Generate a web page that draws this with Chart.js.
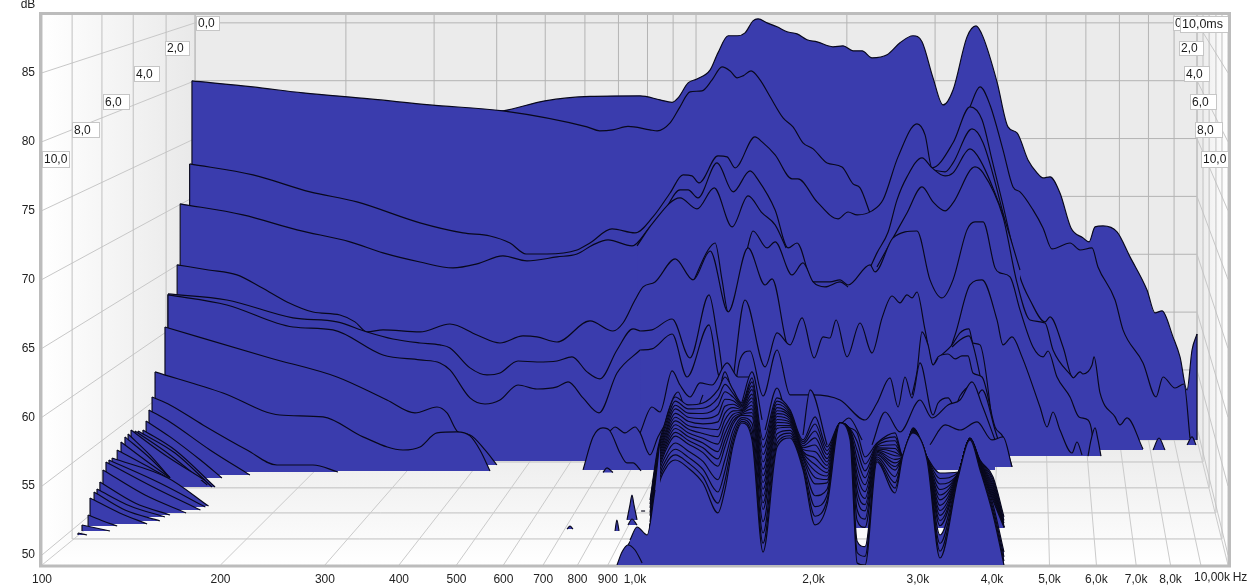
<!DOCTYPE html>
<html>
<head>
<meta charset="utf-8">
<title>Waterfall</title>
<script src="https://cdn.jsdelivr.net/npm/chart.js@4"></script>
<style>
html,body{margin:0;padding:0;background:#fff;overflow:hidden}
canvas{display:block}
</style>
</head>
<body>
<canvas id="chart" width="1248" height="586"></canvas>
<script>
/******************** AXES ********************/
const xTickHz = [100,200,300,400,500,600,700,800,900,1000,2000,3000,4000,5000,6000,7000,8000];
const xTickText = ['100','200','300','400','500','600','700','800','900','1,0k','2,0k','3,0k','4,0k','5,0k','6,0k','7,0k','8,0k'];
const gridHz = [200,300,400,500,600,700,800,900,1000,2000,3000,4000,5000,6000,7000,8000,9000];
const yTickDb = [50,55,60,65,70,75,80,85];
const timeText = ['0,0','2,0','4,0','6,0','8,0','10,0'];

// where the walls and floor sit, read on the front Hz/dB scales
const floorDb = [58.35,56.75,54.87,53.05,51.16,49.27];
const floorLeftHz = [181.2,161.9,142.5,126.2,112.4,100];
const floorRightHz = [8866,9075,9293,9542,9769,10000];

/******************** SLICES, back to front ********************/
const c0Hz = [570,599,705,840,1020,1102,1155,1182,1229,1272,1339,1380,1436,1487,1533,1581,1613,1670,1736,1805,1876,1950,2028,2157,2243,2332,2415,2510,2661,2798,2943,3048,3181,3307,3438,3630,3759,3863,4078,4256,4408,4600,4764,4876,5010,5208,5436,5695,5830,5967,6155,6499,6836,7302,7532,7740,8077,8300,8529,8696,8866];
const c0Db = [82.17,82.24,82.97,83.29,83.33,83.04,82.86,83.18,84.27,84.56,85.22,86.45,87.69,87.69,87.90,88.77,88.92,88.63,88.34,87.98,87.83,87.40,87.25,86.89,86.96,86.60,86.60,86.09,86.31,87.18,87.69,87.25,84.64,82.67,83.76,87.61,88.41,87.61,84.35,81.08,80.64,78.68,77.74,77.37,77.45,76.28,73.74,73.02,72.73,73.82,73.89,73.45,71.64,69.24,67.57,67.72,65.83,64.38,61.98,64.88,66.04];

const c1Hz = [179,226.9,275.5,357,451,599,830,872,918,973,1060,1090,1146,1191,1238,1297,1349,1402,1447,1487,1521,1569,1625,1690,1777,1847,1920,1997,2108,2234,2332,2396,2520,2672,2910,3333,3672,3818,3969,4174,4340,4459,4690,4876,5049,5415,5629,5898,6036,6450,6652,7190,7562,7770,8140,8430,8628];
const c1Db = [84.42,83.98,83.55,83.11,82.67,82.24,81.08,80.79,80.86,81.11,80.86,80.79,81.37,82.53,83.62,83.69,84.49,85.43,85.14,84.64,84.78,85.14,84.49,83.26,81.73,81.08,79.92,79.48,78.46,78.17,76.94,76.65,74.32,73.45,72.14,77.95,82.53,83.98,82.67,79.41,76.72,76.36,75.05,73.74,72.22,72.65,72.14,72.29,70.91,68.51,66.34,63.94,61.47,62.92,62.12,62.41,58.49];

const aHz = [177.4,226.9,283.1,339.7,433.9,512.8,569.5,615.4,654.9,710.5,798.4,839.6,914.6,1000,1072,1146,1205,1248,1282,1380,1430,1475,1593,1638,1723,1840,1883,2028,2200,2287,2369,2510,2620,2777,2989,3084,3169,3438,3672,3848,4000,4174,4240,4459,4636,4914,5010,5270,5478,5629,5695,5898,5944,6084,6449,6575,6756,7190];
const aDb = [78.39,77.59,76.36,75.63,74.11,73.38,73.16,72.65,71.85,71.85,72.14,72.65,73.67,73.38,74.54,76.28,77.59,77.52,77.01,78.97,78.9,78.1,80.35,79.99,79.04,77.3,77.3,75.63,74.4,74.9,74.69,74.98,75.78,78.9,81.3,80.5,78.1,79.92,82.53,81.59,78.68,75.41,74.11,70.18,68.51,66.92,67.28,65.1,62.85,63.29,63.14,63.79,64.38,61.76,60.02,59.44,59.95,57.69];

const t2Hz = [3181,3333,3438,3701,3863,4174,4323];
const t2Db = [77.95,77.81,78.46,80.93,79.92,74.83,72.14];
const tcHz = [2491,2559,2672,2766,2875,3048,3169,3333,3438,3672,3818,4174,4459];
const tcDb = [70.84,71.93,73.45,75.78,77.45,78.83,78.1,77.52,77.74,79.48,78.68,74.69,70.69];
const t5Hz = [2559,2724,2875,3048,3181,3333,3438,3744,3863,4174,4408,4636,4914,5069,5478];
const t5Db = [70.91,73.02,74.83,76.72,75.63,74.98,75.56,78.17,77.74,74.54,69.75,67.06,66.84,64.88,62.85];

const bHz = [171,218.2,269.2,330.6,375.9,433.9,493.2,541.4,598.9,657.4,738.7,798.4,849.5,900.5,988.4,1060,1115,1191,1229,1277,1375,1464,1563,1613,1723,1812,1876,1997,2132,2217,2287,2491,2539,2724,2989,3144,3294,3438,3630,3744,3863,4047,4126,4290,4459,4690,4876,4972,5148,5415,5607,5807,5898,5944];
const bDb = [75.49,74.69,73.6,72.73,71.93,71.27,70.84,71.13,71.71,71.35,71.64,71.85,72.51,72.87,72.44,73.82,74.83,76.5,76.5,75.92,78.46,76.36,77.88,77.23,75.05,72.29,72.65,69.82,69.82,69.97,69.6,71.06,70.55,73.02,73.52,69.97,68.66,69.97,73.6,74.18,74.18,70.84,70.48,70.18,67.79,65.1,64.38,64.81,62.92,61.47,60.02,59.8,58.86,57.26];
const cHz = [1008,1072,1191,1272,1360,1458,1551,1638,1723,1798];
const cDb = [72.44,74.11,75.92,75.12,76.65,73.82,76.07,74.83,73.96,72.29];
const eHz = [1253,1328,1365,1402,1436,1503,1545,1581,1670,1723,1840,1920,1997,2091,2217,2287];
const eDb = [69.82,72.14,72.65,69.97,67.64,69.97,72.14,73.52,72.29,72.73,70.33,71.2,69.82,69.46,69.82,69.46];

const dHz = [169,190.9,213.2,234.9,258.9,286.4,318,337.1,353.2,375.9,433.9,487.5,541.4,592,647.3,683.4,738.7,839.6,918,954.5,1000,1032,1081,1169,1253,1339,1436,1551,1657,1703,1805,1898,2305,2798,3268,3465,3672,3848,4078,4174,4323,4494,4819,4952,5069,5208,5457,5564,5673];
const dDb = [71.06,70.69,70.33,69.39,68.37,67.64,67.42,66.92,66.19,66.34,66.19,66.77,65.97,65.39,65.9,65.83,65.46,66.99,66.26,66.84,68.51,69.46,69.82,71.49,69.97,72.07,67.64,72.29,69.6,70.04,65.25,64.16,63.79,64.16,63.43,65.97,69.6,69.97,67.06,65.25,65.83,64.38,60.74,59.29,60.38,59.07,57.4,58.2,57.26];

const h2Hz = [3244,3425,3532,3658,3715,3818,4016];
const h2Db = [64.3,65.25,66.12,66.41,65.39,65.25,59.29];
const h3Hz = [3425,3532,3658,3715,3893];
const h3Db = [65.1,65.61,65.9,65.25,61.25];

const l4aHz = [163.1,205,265,314.4,353.2,390.7,433.9,468.9,487.5,526.9,562.8,592,634.9,683.4,738.7,783,830,872.9,932.5,992.3,1020];
const l4aDb = [68.95,68.51,67.21,66.92,66.19,65.68,65.39,65.25,65.03,63.58,63.07,63.21,64.08,64.01,64.08,64.38,63.29,62.78,64.88,66.41,66.26];
const l4bHz = [1020,1068,1155,1238,1333,1380,1436,1533,1657,1736,1826,1913,2005,2075,2132,2183,2278,2396,2510,2610,2713,2798,2875,2932,2989,3084,3181,3244,3372,3465,3560,3644,3715,3848,4047,4174,4323];
const l4bDb = [66.26,66.34,67.13,64.3,68.88,65.61,61.25,68.51,63.65,66.12,65.25,67.21,64.3,65.83,65.75,67.06,64.38,66.84,64.66,67.21,68.8,68.3,68.88,68.66,69.09,66.34,63.79,64.38,64.59,64.23,64.45,64.45,63.21,62.92,59.29,58.57,56.39];
const h1Hz = [2932,2989,3048,3120,3181,3244];
const h1Db = [61.62,63.29,66.19,65.25,63.79,64.3];

const l5aHz = [163.1,205,265,309.5,375.9,433.9,468.9,487.5,526.9,558.5,592,634.9,683.4,738.7,771,817.2,869.5,932.5,1020];
const l5aDb = [68.88,68.15,66.55,66.34,64.52,64.16,63.94,63.43,61.4,60.96,61.25,62.34,62.05,62.2,62.56,61.4,60.31,63.21,64.88];
const l5bHz = [1020,1068,1155,1224,1333,1380,1447,1503,1563,1644,1736,1826,1989,2217,2443,2559,2692,2777,2853,2932,3024,3181,3244,3372,3465,3532,3672,3715,3848,4047,4207];
const l5bDb = [64.88,64.96,66.04,62.92,66.7,63.21,60.53,64.16,64.81,61.54,64.88,61.62,61.62,61.25,59.8,61.03,62.85,60.74,62.92,61.4,63.94,60.16,61.03,61.4,60.74,61.54,62.2,61.03,61.98,59.07,56.75];

const l6Hz = [161.2,242.3,314.4,381.7,425.5,463.5,481.9,502.9,526.9,558.5,585];
const l6Db = [66.55,64.3,62.92,61.25,60.31,60.74,60.31,58.93,58.71,57.62,56.53];
const l7Hz = [155.1,201.9,251.9,297.8,347.8,406.2,433.9,463.5,500.9,526.9,547.7,569.5];
const l7Db = [63.29,61.76,60.16,60.02,58.57,57.62,57.84,58.86,58.93,58.64,57.62,56.1];
const l8Hz = [153.3,164.4,186.8,221.7,249,286.4,315.6];
const l8Db = [61.47,60.89,59.44,57.62,56.53,56.53,56.02];

// the small wedges at the low end, each ends on its own floor level
const wedgeHz = [
  [151.5,164.4,192,224.2],[149.8,164.4,185,201.1],[148,167.6,195.8],[145.2,167.6,193.5],
  [143.5,164.4,190],[141.3,161.2,187.9],[139.7,152,164.4],[138,152,164.4],[135.9,149.2,164.4],
  [133.9,149.2,163.1],[131.3,163.1,190.9],[129.7,158,188.6],[128.2,155.1,185],[126.7,149.2,175],
  [125.2,143.5,164.4],[123.8,140.8,161.2],[122.4,138,158],[120.5,135.2,150.4],[119.6,126.7,133.9],
  [116.8,123.3,130.2],[115,119.1]
];
const wedgeDb = [
  [60.53,59.65,57.62,55.8],[59.73,58.57,56.89,55.59],[59.07,57.62,54.93],[59,57.4,54.93],
  [59,57.26,55.08],[59.07,57.26,55.44],[58.78,57.26,55.59],[58.57,57.04,55.59],[58.2,56.89,55.59],
  [57.62,56.53,55.59],[57.04,55.59,53.55],[56.89,55.22,53.48],[56.75,54.86,53.26],[56.17,54.35,53.05],
  [55.3,53.77,52.9],[54.79,53.55,52.76],[54.57,53.26,52.47],[54.14,53.05,52.25],[52.9,52.47,52.1],
  [52.17,51.96,51.74],[51.59,51.45]
];

// mid level ripples behind the dense group
const g2Hz = [1020,1068,1102,1155,1191,1238,1287,1349,1430,1492,1575,1613];
const g2Db = [58.86,60.74,60.38,63.36,62.34,61.47,62.49,62.34,63.94,62.92,62.92,60.53];
const g3Hz = [1102,1137,1182,1238,1302];
const g3Db = [58,60.38,61.83,59.44,61.62];
const g4Hz = [1365,1418,1492,1575,1638];
const g4Db = [59.8,63.29,60.53,63.29,59.8];
const m5Hz = [1657,1736,1826];
const m5Db = [59.07,62.12,58.35];
const m6Hz = [1920,1974,2108];
const m6Db = [58.71,61.98,57.99];
const m7Hz = [2217,2295,2415];
const m7Db = [59.44,59.94,58.35];
const m2Hz = [2510,2641,2798,3024,3169,3372,3532,3701,3848,4047];
const m2Db = [57.99,60.38,58.93,61.25,59.94,60.89,61.25,62.56,60.89,58.35];
const m3Hz = [3144,3333,3532,3774,4000,4174,4323];
const m3Db = [58,59.44,59.07,59.66,58.35,58.57,56.39];
const g1bHz = [907.5,925.3,962,1000,1020,1060,1093,1137];
const g1bDb = [59,59.29,58.86,59.29,58.86,57.26,58.57,59.8];
const g1aHz = [817.2,849.5,883,907.5,943.4,969.4,992.3,1024];
const g1aDb = [56.17,58.57,59.22,59,57.4,56.68,56.68,56.1];

// dense group in front, rows run from the back one to the front one
const denseHz = [1060,1093,1128,1169,1229,1302,1380,1418,1464,1515,1575,1644,1736,1826,1920,2012,2108,2217,2305,2369,2443,2559,2745,2831,2943,3108,3268,3506,3672,3818,4016,4190];
const denseFloor = [52,52,52,52,52,52,52,52,52,52,52,50,49.27,49.27,49.27];
const denseDb = [
  [53.99,57.77,59.80,61.47,60.89,61.03,61.98,62.92,61.98,61.03,62.85,58.35,61.40,60.53,58.35,60.02,57.84,59.58,59.22,58.86,57.11,58.13,58.86,57.11,59.22,57.11,55.95,56.02,58.49,56.89,55.66,52.76],
  [53.7,57.57,59.57,61.17,60.6,60.65,61.4,62.38,61.72,60.93,62.56,57.82,61.17,60.4,58.21,59.51,57.56,59.58,59.16,58.23,56.6,58.04,58.57,57.12,59.2,57.1,55.55,55.99,58.48,56.85,55.48,52.5],
  [53.42,57.37,59.35,60.87,60.3,60.27,60.82,61.85,61.46,60.84,62.27,57.29,60.94,60.26,58.07,59.0,57.29,59.58,59.11,57.6,56.1,57.95,58.29,57.13,59.17,57.08,55.15,55.96,58.47,56.8,55.3,52.3],
  [53.1,57.2,59.1,60.6,60,59.9,60.2,61.3,61.2,60.75,62,56.75,60.7,60.13,57.92,58.5,57,59.58,59.05,57,55.6,57.86,58,57.14,59.15,57.06,54.75,55.93,58.46,56.75,55.1,52.1],
  [52.86,56.98,58.9,60.28,59.7,59.52,59.66,60.79,60.94,60.65,61.68,56.23,60.47,60.0,57.78,57.98,56.75,59.58,58.99,56.4,55.1,57.77,57.73,57.15,59.13,57.05,54.35,55.91,58.45,56.7,54.94,52],
  [52.4,56.8,58.7,60,59.4,59.2,59.1,60.3,60.7,60.56,61.4,55.75,60.26,59.87,57.65,57.5,56.5,59.58,58.94,55.85,54.6,57.69,57.46,57.16,59.1,57.04,54,55.88,58.45,56.66,54.78,52],
  [52,56.61,58.48,59.73,59.15,58.82,58.59,59.8,60.46,60.48,61.14,55.26,60.05,59.75,57.52,57.04,56.24,59.58,58.89,55.3,54.1,57.61,57.2,57.17,59.08,57.03,53.6,55.86,58.44,56.62,54.61,52],
  [52,56.43,58.27,59.45,58.87,58.47,58.05,59.3,60.22,60.39,60.87,54.77,59.83,59.63,57.39,56.57,55.98,59.58,58.83,54.7,53.65,57.52,56.94,57.17,59.06,57.01,53.23,55.83,58.43,56.57,54.44,52],
  [52,56.25,58.06,59.18,58.6,58.13,57.5,58.82,59.98,60.3,60.6,54.28,59.62,59.51,57.26,56.1,55.73,59.58,58.78,54.1,53.2,57.44,56.68,57.18,59.04,57.0,52.87,55.8,58.42,56.53,54.28,52],
  [52,56.06,57.85,58.9,58.33,57.78,56.97,58.33,59.74,60.21,60.33,53.79,59.4,59.39,57.13,55.63,55.48,59.58,58.73,53.3,52.6,57.35,56.42,57.19,59.02,56.98,52.5,55.78,58.41,56.48,54.11,52],
  [52,55.88,57.64,58.63,58.06,57.43,56.44,57.84,59.50,60.13,60.06,53.30,59.19,59.27,57.0,55.16,55.23,59.58,58.68,52.5,52,57.27,56.16,57.2,59.0,56.97,52.12,55.75,58.40,56.44,53.95,52],
  [50.81,55.54,57.26,58.13,57.55,56.79,55.46,56.93,59.06,59.97,59.57,52.41,58.80,59.04,56.76,54.30,54.77,59.58,58.58,50,50,57.12,55.68,57.22,58.96,56.95,51.45,55.71,58.39,56.36,53.65,50.21],
  [50.37,55.24,56.91,57.67,57.10,56.21,54.57,56.11,58.66,59.83,59.12,51.59,58.45,58.84,56.54,53.51,54.35,59.58,58.50,51.0,50.6,56.98,55.24,57.23,58.92,56.93,50.83,55.66,58.37,56.29,53.37,49.86],
  [49.98,54.96,56.60,57.26,56.69,55.68,53.76,55.38,58.30,59.70,58.71,50.86,58.12,58.65,56.34,52.81,53.97,59.58,58.42,50.18,49.9,56.86,54.85,57.25,58.89,56.91,50.27,55.62,58.36,56.23,53.12,49.55],
  [49.63,54.72,56.32,56.89,56.32,55.22,53.05,54.72,57.98,59.58,58.35,50.21,57.84,58.49,56.17,52.18,53.63,59.58,58.35,49.42,49.27,56.75,54.50,57.26,58.86,56.89,49.78,55.59,58.35,56.17,52.90,49.27]
];

// low humps left of the dense group
const lf2Hz = [973,1008,1048,1072,1102];
const lf2Db = [50.72,51.67,51.08,53.77,58.35];
const lf3Hz = [980.7,1008,1048,1081];
const lf3Db = [51.08,52.03,51.45,54.72];
const lf1Hz = [932.5,950.8,973,1000,1028];
const lf1Db = [49.27,50.21,50.72,50.36,49.42];

// isolated bumps on the floor
const bumpHz = [[883,897,918],[768,777,786],[925.3,932,940],[969.4,980.7,988.4,996,1008],[973,988.4,1008],[1024,1040],[7474,7650,7830],[8529,8696,8832],[5807,5875,5967,6036,6107]];
const bumpDb = [[55.99,56.32,55.99],[51.88,52.1,51.88],[51.74,52.54,51.74],[52.54,53.63,54.35,53.63,52.54],[52.17,52.61,52.17],[53.19,53.19],[57.62,58.49,57.62],[57.99,58.57,57.99],[57.18,58.35,59.22,58.35,57.18]];

/******************** BUILD DATASETS ********************/
const BLUE = '#3a3cad';
const LINE = '#08081c';
const LINE_W = 1.15;
const layers = [];

function addEdge(hz, top, base) {
  layers.push({
    data: [{x: hz, y: base}, {x: hz, y: top}],
    fill: false, borderColor: LINE, borderWidth: LINE_W, pointRadius: 0, tension: 0
  });
}

function addSlice(hz, db, base, leftEdge, rightEdge) {
  layers.push({
    data: hz.map((f, i) => ({x: f, y: db[i]})),
    fill: {value: base},
    backgroundColor: BLUE,
    borderColor: LINE,
    borderWidth: LINE_W,
    pointRadius: 0,
    cubicInterpolationMode: 'monotone'
  });
  if (leftEdge) addEdge(hz[0], db[0], base);
  if (rightEdge) addEdge(hz[hz.length - 1], db[db.length - 1], base);
}

addSlice(c0Hz, c0Db, 58.35, false, true);
addSlice(c1Hz, c1Db, 58.49, true, false);
addSlice(aHz, aDb, 57.62, true, false);
addSlice(t2Hz, t2Db, 58.5);
addSlice(tcHz, tcDb, 58.5);
addSlice(t5Hz, t5Db, 58.5);
addSlice(bHz, bDb, 57.18, true, false);
addSlice(cHz, cDb, 58.5);
addSlice(eHz, eDb, 58.5);
addSlice(dHz, dDb, 57.18, true, false);
addSlice(h2Hz, h2Db, 58.5);
addSlice(h3Hz, h3Db, 58.5);
addSlice(l4aHz, l4aDb, 56.82, true, false);
addSlice(l4bHz, l4bDb, 56.39);
addSlice(h1Hz, h1Db, 58.5);
addSlice(l5aHz, l5aDb, 56.82, true, false);
addSlice(l5bHz, l5bDb, 56.39);
addSlice(l6Hz, l6Db, 56.53, true, false);
addSlice(l7Hz, l7Db, 56.1, true, false);
addSlice(l8Hz, l8Db, 56.02, true, false);
wedgeHz.forEach((hz, i) => {
  const db = wedgeDb[i];
  addSlice(hz, db, db[db.length - 1], true, false);
});
[[g2Hz, g2Db], [g3Hz, g3Db], [g4Hz, g4Db], [m5Hz, m5Db], [m6Hz, m6Db], [m7Hz, m7Db], [m2Hz, m2Db]].forEach(p => addSlice(p[0], p[1], 56.17));
addSlice(m3Hz, m3Db, 56.39);
addSlice(g1bHz, g1bDb, 56.17);
addSlice(g1aHz, g1aDb, 56.17);
denseDb.forEach((db, i) => addSlice(denseHz, db, denseFloor[i]));
addSlice(lf2Hz, lf2Db, 49.27);
addSlice(lf3Hz, lf3Db, 49.27);
addSlice(lf1Hz, lf1Db, 49.27);
bumpHz.forEach((hz, i) => {
  const db = bumpDb[i];
  addSlice(hz, db, db[0]);
});

/******************** ROOM: walls, floor, grid, labels ********************/
function drawLine(ctx, x1, y1, x2, y2) {
  ctx.beginPath();
  ctx.moveTo(x1, y1);
  ctx.lineTo(x2, y2);
  ctx.stroke();
}

function drawBox(ctx, x, y, w, h, text, size) {
  ctx.fillStyle = '#fff';
  ctx.strokeStyle = '#c6c6c6';
  ctx.lineWidth = 1;
  ctx.fillRect(x + 0.5, y + 0.5, w, h);
  ctx.strokeRect(x + 0.5, y + 0.5, w, h);
  ctx.fillStyle = '#1a1a1a';
  ctx.font = size + 'px "Liberation Sans"';
  ctx.textAlign = 'left';
  ctx.textBaseline = 'middle';
  ctx.fillText(text, x + 2, y + h / 2 + 1);
}

const room = {
  id: 'room',
  beforeDatasetsDraw(chart) {
    const {ctx, chartArea: a, scales: {x: xs, y: ys}} = chart;
    const bl = xs.getPixelForValue(floorLeftHz[0]);
    const br = xs.getPixelForValue(floorRightHz[0]);
    const bb = ys.getPixelForValue(floorDb[0]);
    const backX = px => bl + (px - a.left) * (br - bl) / (a.right - a.left);
    const backY = d => ys.getPixelForValue(88.63 - (85 - d) * 0.84);

    ctx.save();
    // back wall
    ctx.fillStyle = '#ebebeb';
    ctx.fillRect(bl, a.top, br - bl, bb - a.top);
    // side walls
    let g = ctx.createLinearGradient(a.left, 0, bl, 0);
    g.addColorStop(0, '#ffffff');
    g.addColorStop(1, '#e9e9e9');
    ctx.fillStyle = g;
    ctx.beginPath();
    ctx.moveTo(a.left, a.top); ctx.lineTo(bl, a.top); ctx.lineTo(bl, bb); ctx.lineTo(a.left, a.bottom);
    ctx.closePath();
    ctx.fill();
    g = ctx.createLinearGradient(br, 0, a.right, 0);
    g.addColorStop(0, '#e9e9e9');
    g.addColorStop(1, '#ffffff');
    ctx.fillStyle = g;
    ctx.beginPath();
    ctx.moveTo(br, a.top); ctx.lineTo(a.right, a.top); ctx.lineTo(a.right, a.bottom); ctx.lineTo(br, bb);
    ctx.closePath();
    ctx.fill();
    // floor
    g = ctx.createLinearGradient(0, bb, 0, a.bottom);
    g.addColorStop(0, '#ebebeb');
    g.addColorStop(1, '#ffffff');
    ctx.fillStyle = g;
    ctx.beginPath();
    ctx.moveTo(bl, bb); ctx.lineTo(br, bb); ctx.lineTo(a.right, a.bottom); ctx.lineTo(a.left, a.bottom);
    ctx.closePath();
    ctx.fill();

    // back wall grid
    ctx.lineWidth = 1;
    ctx.strokeStyle = '#b4b4b4';
    yTickDb.forEach(d => drawLine(ctx, bl, backY(d), br, backY(d)));
    gridHz.forEach(f => {
      const fx = backX(xs.getPixelForValue(f));
      drawLine(ctx, fx, a.top, fx, bb);
    });
    drawLine(ctx, bl, a.top, bl, bb);
    drawLine(ctx, br, a.top, br, bb);

    // side walls grid
    ctx.strokeStyle = '#c8c8c8';
    yTickDb.forEach(d => {
      drawLine(ctx, a.left, ys.getPixelForValue(d), bl, backY(d));
      drawLine(ctx, br, backY(d), a.right, ys.getPixelForValue(d));
    });
    floorDb.forEach((d, i) => {
      const lx = xs.getPixelForValue(floorLeftHz[i]);
      const rx = xs.getPixelForValue(floorRightHz[i]);
      const y = ys.getPixelForValue(d);
      ctx.strokeStyle = '#c0c0c0';
      drawLine(ctx, lx, a.top, lx, y);
      drawLine(ctx, rx, a.top, rx, y);
      if (i < 5) drawLine(ctx, lx, y, rx, y);
    });

    // floor grid
    ctx.strokeStyle = '#cbcbcb';
    gridHz.forEach(f => {
      const fx = xs.getPixelForValue(f);
      drawLine(ctx, backX(fx), bb, fx, a.bottom);
    });
    drawLine(ctx, bl, bb, a.left, a.bottom);
    drawLine(ctx, br, bb, a.right, a.bottom);

    // time labels, left and right
    const boxX = [196,165,134,103,72,42];
    const boxRX = [1173,1179,1184,1190,1195,1201];
    const boxY = [16,41,66,94,122,151];
    const boxW = [23,24,25,26,27,27];
    const boxH = [14,14,15,15,15,16];
    timeText.forEach((t, i) => {
      drawBox(ctx, boxX[i], boxY[i], boxW[i], boxH[i], t, 12);
      drawBox(ctx, boxRX[i], boxY[i], boxW[i], boxH[i], t, 12);
    });
    drawBox(ctx, 1180, 16, 48, 16, '10,0ms', 12.5);

    // frame
    ctx.strokeStyle = '#bcbcbc';
    ctx.lineWidth = 3;
    ctx.strokeRect(a.left - 1.5, a.top - 1.5, a.right - a.left + 3, a.bottom - a.top + 2.5);
    ctx.restore();
  },
  afterDraw(chart) {
    const {ctx, chartArea: a, scales: {x: xs}} = chart;
    ctx.save();
    ctx.fillStyle = '#222';
    ctx.font = '12px "Liberation Sans"';
    ctx.textAlign = 'center';
    ctx.textBaseline = 'middle';
    ctx.fillText('dB', 28, 5);
    ctx.fillText('10,00k', xs.getPixelForValue(10000) - 16, a.bottom + 13);
    ctx.fillText('Hz', xs.getPixelForValue(10000) + 12, a.bottom + 13);
    ctx.restore();
  }
};

/******************** CHART ********************/
new Chart(document.getElementById('chart'), {
  type: 'line',
  data: {datasets: layers.slice().reverse()},
  plugins: [room],
  options: {
    responsive: false,
    animation: false,
    events: [],
    layout: {padding: {top: 15, right: 20, left: 0, bottom: 0}},
    plugins: {legend: {display: false}, tooltip: {enabled: false}},
    scales: {
      x: {
        type: 'logarithmic',
        min: 100,
        max: 10000,
        grid: {display: false},
        border: {display: false},
        afterBuildTicks: s => { s.ticks = xTickHz.map(v => ({value: v})); },
        afterFit: s => { s.height = 21; },
        ticks: {
          autoSkip: false,
          maxRotation: 0,
          padding: -1,
          color: '#222',
          font: {family: '"Liberation Sans"', size: 12},
          callback: v => xTickText[xTickHz.indexOf(v)] || ''
        }
      },
      y: {
        type: 'linear',
        min: 49.27,
        max: 89.2,
        grid: {display: false},
        border: {display: false},
        afterBuildTicks: s => { s.ticks = yTickDb.map(v => ({value: v})); },
        afterFit: s => { s.width = 42; },
        ticks: {
          padding: -1,
          color: '#222',
          font: {family: '"Liberation Sans"', size: 12},
          callback: v => String(v)
        }
      }
    }
  }
});
</script>
</body>
</html>
